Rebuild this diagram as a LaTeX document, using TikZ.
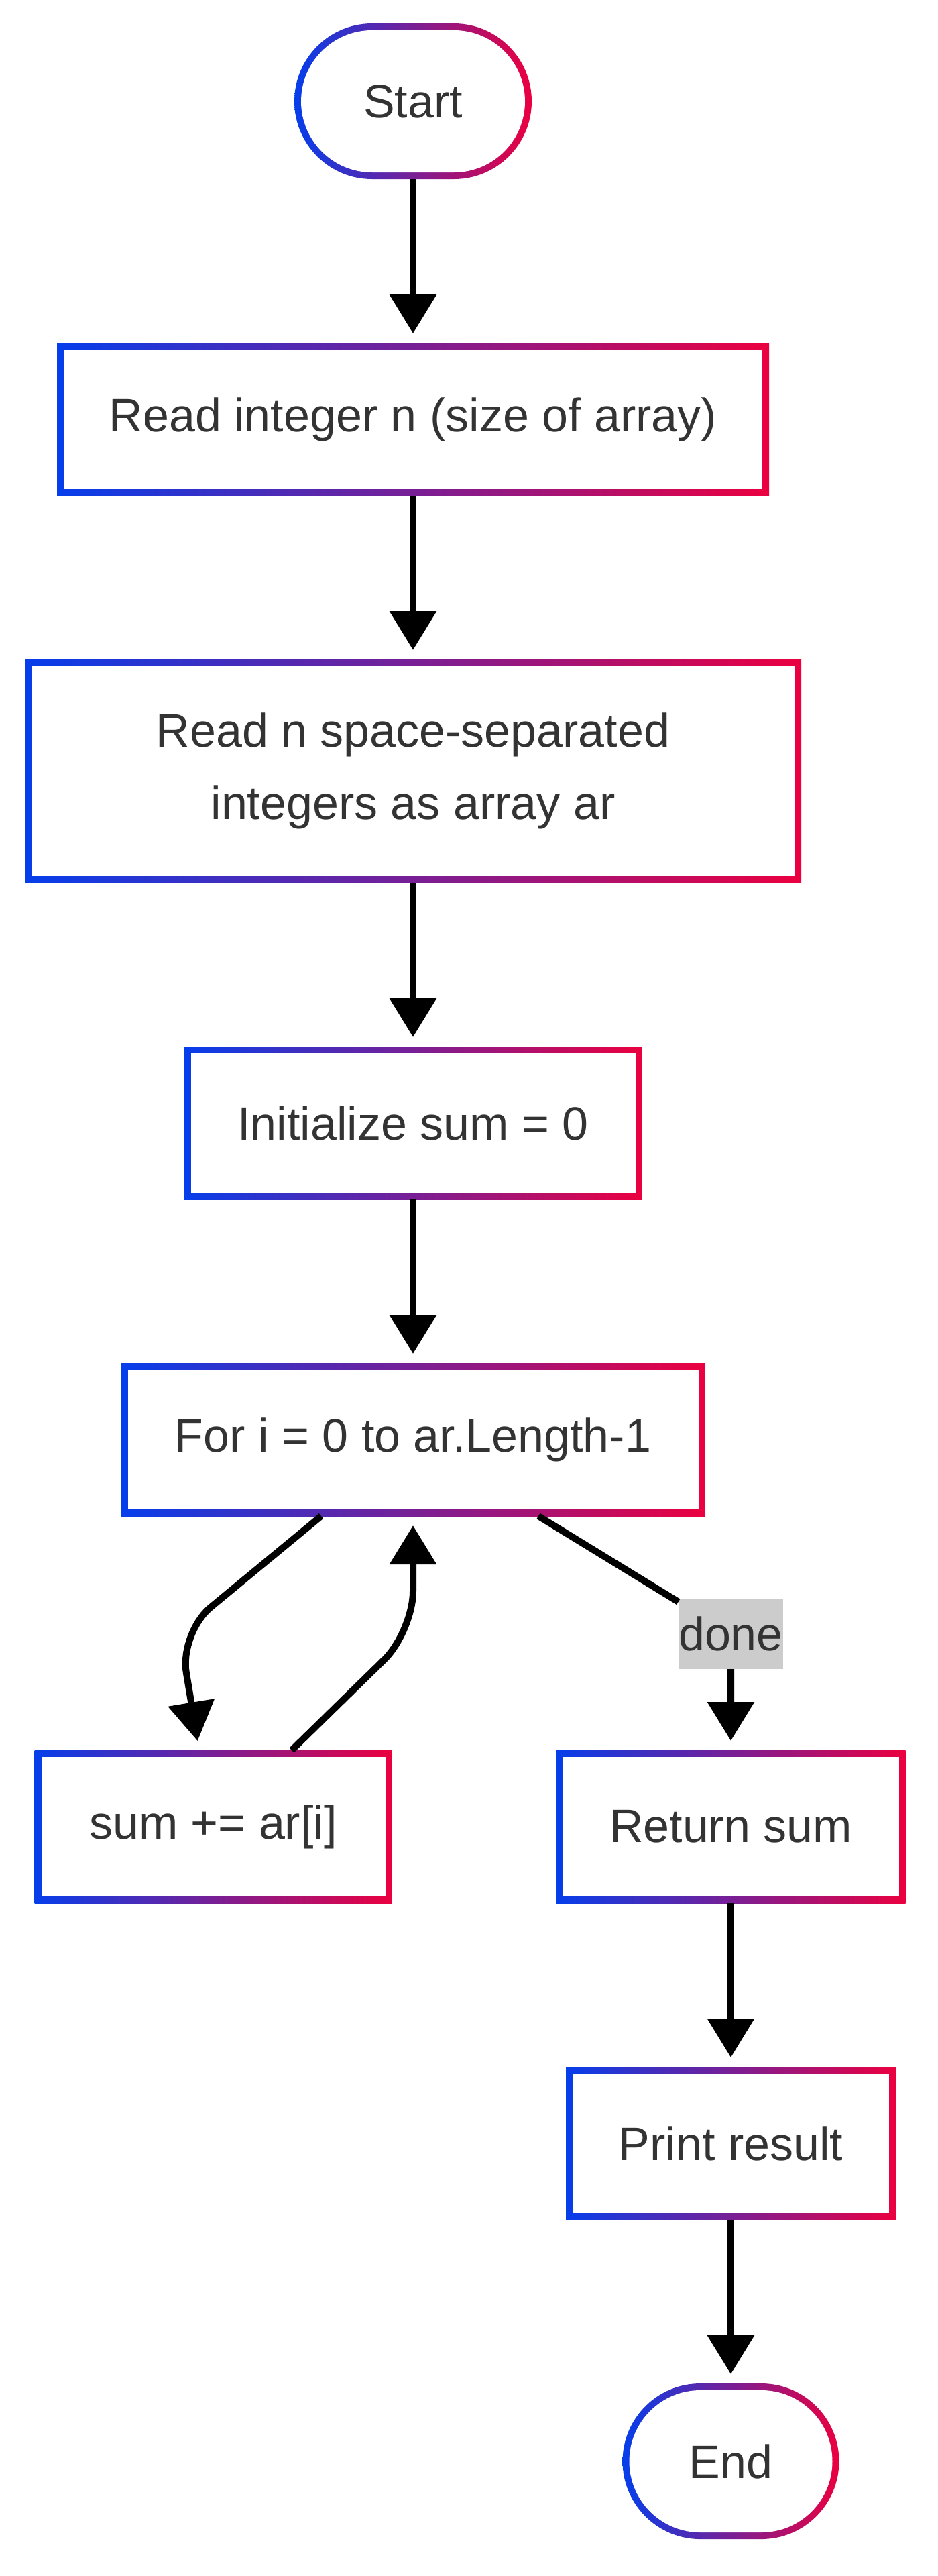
\documentclass[tikz,border=0pt]{standalone}
\usepackage{fontspec}
\setmainfont{Liberation Sans}
\usepackage{tikz}
\usetikzlibrary{arrows.meta,positioning,calc}
\definecolor{flowblue}{RGB}{5,62,235}
\definecolor{flowred}{RGB}{235,0,64}
\definecolor{txtgray}{RGB}{51,51,51}
\definecolor{lblgray}{RGB}{204,204,204}

\begin{document}
\begin{tikzpicture}[
  node distance=122pt,
  every node/.style={font=\fontsize{35pt}{54pt}\selectfont, text=txtgray},
  box/.style={rectangle, minimum height=114pt, inner sep=0pt, outer sep=0pt,
    align=center, left color=flowblue, right color=flowred,
    path picture={\fill[white, sharp corners]
      ([shift={(5pt,5pt)}]path picture bounding box.south west) rectangle
      ([shift={(-5pt,-5pt)}]path picture bounding box.north east);}},
  term/.style={box, minimum width=177pt, minimum height=116pt, rounded corners=58pt,
    path picture={\fill[white, rounded corners=53pt]
      ([shift={(5pt,5pt)}]path picture bounding box.south west) rectangle
      ([shift={(-5pt,-5pt)}]path picture bounding box.north east);}},
  lbl/.style={fill=lblgray, inner xsep=0pt, inner ysep=0pt, minimum height=52pt},
  arr/.style={-{Triangle[length=29pt, width=34pt]}, line width=5pt, shorten >=7pt}
]
\useasboundingbox (0,0) rectangle (699pt,-1920pt);

\node[term] (start) at (308pt,-75.5pt) {Start};
\node[box, minimum width=531pt, below=of start] (readn) {Read integer n (size of array)};
\node[box, minimum width=579pt, minimum height=166.5pt, below=of readn] (readar)
  {Read n space-separated\\integers as array ar};
\node[box, minimum width=341.5pt, below=of readar] (init) {Initialize sum = 0};
\node[box, minimum width=435.5pt, below=of init] (loop) {For i = 0 to ar.Length-1};

\node[box, minimum width=266.5pt, below=174.5pt of loop, xshift=-149pt] (acc) {sum += ar[i]};
\node[box, minimum width=260.5pt, below=174.5pt of loop, xshift=237pt] (ret) {Return sum};
\node[box, minimum width=246pt, below=of ret] (print) {Print result};
\node[term, minimum width=161.5pt, below=of print] (end) {End};
\node[lbl, above=60.5pt of ret] (done) {done};

\coordinate (downbend) at ($(loop.south)+(-174pt,-87pt)$);
\coordinate (upbend) at ($(loop.south)+(0pt,-86pt)$);

\draw[arr] (start) -- (readn);
\draw[arr] (readn) -- (readar);
\draw[arr] (readar) -- (init);
\draw[arr] (init) -- (loop);
\draw[arr, rounded corners=30pt] ([xshift=-68.5pt]loop.south) -- (downbend) -- ([xshift=-10.5pt]acc.north);
\draw[arr, rounded corners=30pt] ([xshift=58.5pt]acc.north) -- (upbend) -- (loop.south);
\draw[arr] ([xshift=93.5pt]loop.south) -- (done) -- (ret);
\draw[arr] (ret) -- (print);
\draw[arr] (print) -- (end);
\end{tikzpicture}
\end{document}
